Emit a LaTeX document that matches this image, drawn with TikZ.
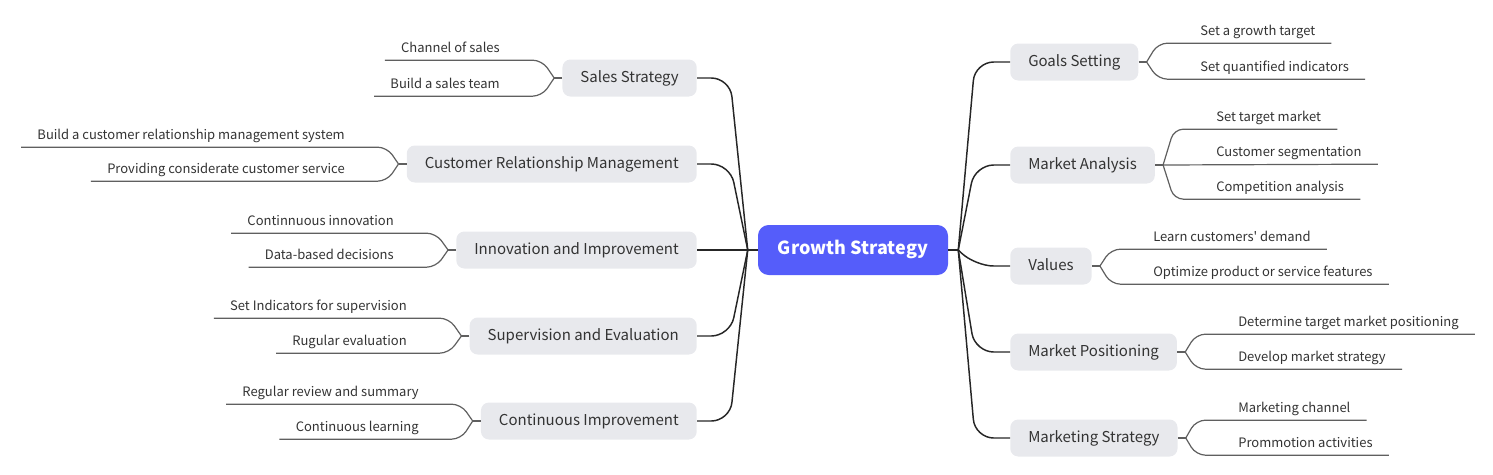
\documentclass[tikz,border=0pt]{standalone}
\usepackage{fontspec}
\setmainfont{Noto Sans CJK SC}[Ligatures=TeXOff]
\usetikzlibrary{positioning,calc}
\definecolor{rootBlue}{RGB}{85,93,250}
\definecolor{topicGray}{RGB}{232,233,237}
\definecolor{inkGray}{RGB}{51,51,51}
\definecolor{leafLine}{RGB}{95,95,95}
\tikzset{%
  % Specifications for style of nodes:
           base/.style = {rectangle, rounded corners=6pt, text=inkGray,
                          inner xsep=13.5pt, minimum height=27.75pt,
                          text height=0.66em, text depth=0.04em,
                          font=\fontsize{11.25}{13}\selectfont},
           root/.style = {base, fill=rootBlue, text=white, minimum width=142.5pt,
                          minimum height=37.5pt, rounded corners=8pt,
                          font=\bfseries\fontsize{13.5}{16}\selectfont},
     topicRight/.style = {base, fill=topicGray, anchor=west},
      topicLeft/.style = {base, fill=topicGray, anchor=east},
       leafLeft/.style = {anchor=base east, inner xsep=0pt, yshift=5.5pt,
                          text=inkGray, font=\fontsize{9.75}{12}\selectfont},
      leafRight/.style = {leafLeft, anchor=base west},
  % Specifications for style of lines:
       mainLine/.style = {draw=black!85, line width=1.1pt, rounded corners=14pt},
        subLine/.style = {draw=leafLine, line width=0.9pt, rounded corners=7pt},
}

\begin{document}
\begin{tikzpicture}[x=0.75pt, y=-0.75pt]
  \useasboundingbox (0,0) rectangle (1493,475);
  % Specification of nodes (position, etc.)
  \node (growthStrategy)        [root]       at (853,250) {Growth Strategy};
  % right hand topics
  \node (goalsSetting)          [topicRight] at (1010,62)  {Goals Setting};
  \node (marketAnalysis)        [topicRight] at (1010,165) {Market Analysis};
  \node (values)                [topicRight] at (1010,266) {Values};
  \node (marketPositioning)     [topicRight] at (1010,352) {Market Positioning};
  \node (marketingStrategy)     [topicRight] at (1010,438) {Marketing Strategy};
  % left hand topics
  \node (salesStrategy)         [topicLeft]  at (697,78)   {Sales Strategy};
  \node (customerRelationship)  [topicLeft]  at (697,164)  {Customer Relationship Management};
  \node (innovationImprovement) [topicLeft]  at (697,250)  {Innovation and Improvement};
  \node (supervisionEvaluation) [topicLeft]  at (697,336)  {Supervision and Evaluation};
  \node (continuousImprovement) [topicLeft]  at (697,421)  {Continuous Improvement};
  % right hand leaves (placed on the line they sit on)
  \node (growthTarget)          [leafRight]  at (1200,43)  {Set a growth target};
  \node (quantifiedIndicators)  [leafRight]  at (1200,79)  {Set quantified indicators};
  \node (targetMarket)          [leafRight]  at (1216,129) {Set target market};
  \node (customerSegmentation)  [leafRight]  at (1216,164) {Customer segmentation};
  \node (competitionAnalysis)   [leafRight]  at (1216,199) {Competition analysis};
  \node (customerDemand)        [leafRight]  at (1153,249) {Learn customers' demand};
  \node (productFeatures)       [leafRight]  at (1153,284) {Optimize product or service features};
  \node (targetPositioning)     [leafRight]  at (1238,334) {Determine target market positioning};
  \node (marketStrategy)        [leafRight]  at (1238,369) {Develop market strategy};
  \node (marketingChannel)      [leafRight]  at (1238,420) {Marketing channel};
  \node (promotionActivities)   [leafRight]  at (1238,455) {Prommotion activities};
  % left hand leaves
  \node (salesChannel)          [leafLeft]   at (500,60)   {Channel of sales};
  \node (salesTeam)             [leafLeft]   at (500,96)   {Build a sales team};
  \node (crmSystem)             [leafLeft]   at (345,147)  {Build a customer relationship management system};
  \node (customerService)       [leafLeft]   at (345,181)  {Providing considerate customer service};
  \node (continuousInnovation)  [leafLeft]   at (394,233)  {Continnuous innovation};
  \node (dataDecisions)         [leafLeft]   at (394,267)  {Data-based decisions};
  \node (supervisionIndicators) [leafLeft]   at (407,318)  {Set Indicators for supervision};
  \node (regularEvaluation)     [leafLeft]   at (407,353)  {Rugular evaluation};
  \node (reviewSummary)         [leafLeft]   at (419,404)  {Regular review and summary};
  \node (continuousLearning)    [leafLeft]   at (419,439)  {Continuous learning};

  % Specification of lines between nodes specified above
  % root to topics
  \draw[mainLine] (growthStrategy.east) -- ++(10,0) coordinate (rightHub);
  \draw[mainLine] (growthStrategy.west) -- ++(-10,0) coordinate (leftHub);
  \draw[mainLine] (rightHub) -- ($(goalsSetting.west)+(-35,0)$) -- (goalsSetting.west);
  \draw[mainLine] (rightHub) -- ($(marketAnalysis.west)+(-35,0)$) -- (marketAnalysis.west);
  \draw[mainLine] (rightHub) -- ($(values.west)+(-35,0)$) -- (values.west);
  \draw[mainLine] (rightHub) -- ($(marketPositioning.west)+(-35,0)$) -- (marketPositioning.west);
  \draw[mainLine] (rightHub) -- ($(marketingStrategy.west)+(-35,0)$) -- (marketingStrategy.west);
  \draw[mainLine] (leftHub) -- ($(salesStrategy.east)+(33,0)$) -- (salesStrategy.east);
  \draw[mainLine] (leftHub) -- ($(customerRelationship.east)+(33,0)$) -- (customerRelationship.east);
  \draw[mainLine] (leftHub) -- (innovationImprovement.east);
  \draw[mainLine] (leftHub) -- ($(supervisionEvaluation.east)+(33,0)$) -- (supervisionEvaluation.east);
  \draw[mainLine] (leftHub) -- ($(continuousImprovement.east)+(33,0)$) -- (continuousImprovement.east);

  % topics to leaves, right hand side (the leaf line lies 7.5px under the base)
  \draw[subLine] (goalsSetting.east) -- ++(8,0) coordinate (goalsFork);
  \draw[subLine] (goalsFork) -- ($(growthTarget.base west)+(-42,7.5)$) -- ($(growthTarget.base east)+(16,7.5)$);
  \draw[subLine] (goalsFork) -- ($(quantifiedIndicators.base west)+(-42,7.5)$) -- ($(quantifiedIndicators.base east)+(16,7.5)$);
  \draw[subLine] (marketAnalysis.east) -- ++(8,0) coordinate (analysisFork);
  \draw[subLine] (analysisFork) -- ($(targetMarket.base west)+(-42,7.5)$) -- ($(targetMarket.base east)+(16,7.5)$);
  \draw[subLine] (analysisFork) -- ($(customerSegmentation.base east)+(16,7.5)$);
  \draw[subLine] (analysisFork) -- ($(competitionAnalysis.base west)+(-42,7.5)$) -- ($(competitionAnalysis.base east)+(16,7.5)$);
  \draw[subLine] (values.east) -- ++(8,0) coordinate (valuesFork);
  \draw[subLine] (valuesFork) -- ($(customerDemand.base west)+(-42,7.5)$) -- ($(customerDemand.base east)+(16,7.5)$);
  \draw[subLine] (valuesFork) -- ($(productFeatures.base west)+(-42,7.5)$) -- ($(productFeatures.base east)+(16,7.5)$);
  \draw[subLine] (marketPositioning.east) -- ++(8,0) coordinate (positioningFork);
  \draw[subLine] (positioningFork) -- ($(targetPositioning.base west)+(-42,7.5)$) -- ($(targetPositioning.base east)+(16,7.5)$);
  \draw[subLine] (positioningFork) -- ($(marketStrategy.base west)+(-42,7.5)$) -- ($(marketStrategy.base east)+(16,7.5)$);
  \draw[subLine] (marketingStrategy.east) -- ++(8,0) coordinate (marketingFork);
  \draw[subLine] (marketingFork) -- ($(marketingChannel.base west)+(-42,7.5)$) -- ($(marketingChannel.base east)+(16,7.5)$);
  \draw[subLine] (marketingFork) -- ($(promotionActivities.base west)+(-42,7.5)$) -- ($(promotionActivities.base east)+(16,7.5)$);

  % topics to leaves, left hand side
  \draw[subLine] (salesStrategy.west) -- ++(-8,0) coordinate (salesFork);
  \draw[subLine] (salesFork) -- ($(salesChannel.base east)+(42,7.5)$) -- ($(salesChannel.base west)+(-16,7.5)$);
  \draw[subLine] (salesFork) -- ($(salesTeam.base east)+(42,7.5)$) -- ($(salesTeam.base west)+(-16,7.5)$);
  \draw[subLine] (customerRelationship.west) -- ++(-8,0) coordinate (relationshipFork);
  \draw[subLine] (relationshipFork) -- ($(crmSystem.base east)+(42,7.5)$) -- ($(crmSystem.base west)+(-16,7.5)$);
  \draw[subLine] (relationshipFork) -- ($(customerService.base east)+(42,7.5)$) -- ($(customerService.base west)+(-16,7.5)$);
  \draw[subLine] (innovationImprovement.west) -- ++(-8,0) coordinate (innovationFork);
  \draw[subLine] (innovationFork) -- ($(continuousInnovation.base east)+(42,7.5)$) -- ($(continuousInnovation.base west)+(-16,7.5)$);
  \draw[subLine] (innovationFork) -- ($(dataDecisions.base east)+(42,7.5)$) -- ($(dataDecisions.base west)+(-16,7.5)$);
  \draw[subLine] (supervisionEvaluation.west) -- ++(-8,0) coordinate (supervisionFork);
  \draw[subLine] (supervisionFork) -- ($(supervisionIndicators.base east)+(42,7.5)$) -- ($(supervisionIndicators.base west)+(-16,7.5)$);
  \draw[subLine] (supervisionFork) -- ($(regularEvaluation.base east)+(42,7.5)$) -- ($(regularEvaluation.base west)+(-16,7.5)$);
  \draw[subLine] (continuousImprovement.west) -- ++(-8,0) coordinate (improvementFork);
  \draw[subLine] (improvementFork) -- ($(reviewSummary.base east)+(42,7.5)$) -- ($(reviewSummary.base west)+(-16,7.5)$);
  \draw[subLine] (improvementFork) -- ($(continuousLearning.base east)+(42,7.5)$) -- ($(continuousLearning.base west)+(-16,7.5)$);
\end{tikzpicture}
\end{document}
